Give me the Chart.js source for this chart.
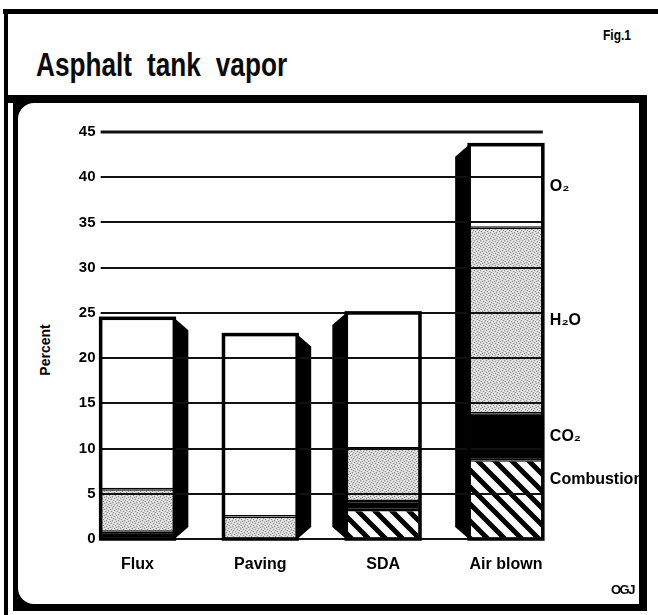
<!DOCTYPE html>
<html>
<head>
<meta charset="utf-8">
<script src="https://cdn.jsdelivr.net/npm/chart.js@4/dist/chart.umd.min.js"></script>
<style>
  html, body { margin:0; padding:0; background:#fff; }
  #page { position:relative; width:658px; height:615px; overflow:hidden; background:#fff; }
  .blk { position:absolute; background:#000; }
  .txt { position:absolute; color:#000; white-space:nowrap; }
  #title { left:36px; top:45px; font-family:"Liberation Sans",Arial,sans-serif; font-size:34px; font-weight:bold; word-spacing:10px; transform:scaleX(0.77); transform-origin:0 0; color:#0a0a0a; }
  #fig { left:603px; top:26px; font-family:"Liberation Sans",Arial,sans-serif; font-size:15px; font-weight:bold; transform:scaleX(0.8); transform-origin:0 0; }
  #ogj { left:611px; top:582px; font-family:"Liberation Sans",Arial,sans-serif; font-size:13px; font-weight:bold; letter-spacing:-1.5px; }
  #percent { left:45px; top:350px; transform:translate(-50%,-50%) rotate(-90deg); font-family:"Liberation Sans",Arial,sans-serif; font-size:14px; font-weight:bold; }
  #chartWrap { position:absolute; left:0; top:0; width:658px; height:615px; }
</style>
</head>
<body>
<div id="page">
  <div class="blk" style="left:3px;top:9px;width:655px;height:5px"></div>
  <div class="blk" style="left:4px;top:9px;width:4px;height:606px"></div>
  <div class="blk" style="left:4px;top:95px;width:643px;height:8px"></div>
  <div class="blk" style="left:13px;top:95px;width:634px;height:516px"></div>
  <div style="position:absolute;left:18px;top:103px;width:621px;height:501px;background:#fff;border-radius:16px 0 0 16px"></div>
  <div class="txt" id="title">Asphalt tank vapor</div>
  <div class="txt" id="fig">Fig.1</div>
  <div class="txt" id="percent">Percent</div>
  <div id="chartWrap"><canvas id="c" width="658" height="615"></canvas></div>
  <div class="txt" id="ogj">OGJ</div>
  <div class="blk" style="left:639px;top:95px;width:8px;height:516px"></div>
</div>
<script>
// ---- data ----
const categories = ['Flux', 'Paving', 'SDA', 'Air blown'];
const combustion = [0, 0, 3.2, 8.7];
const co2        = [0.8, 0, 1.0, 5.2];
const h2o        = [4.7, 2.5, 5.8, 20.5];
const o2         = [18.9, 20.1, 15.0, 9.2];
const seriesNames = ['Combustion', 'CO₂', 'H₂O', 'O₂'];
const yTicks = [0, 5, 10, 15, 20, 25, 30, 35, 40, 45];

// ---- styles ----
const sideOf = ['right', 'right', 'left', 'left'];
const labelNudge = [-20, 0, 0, 0];

function makeHatch() {
  const s = 17;
  const c = document.createElement('canvas');
  c.width = s; c.height = s;
  const x = c.getContext('2d');
  x.fillStyle = '#fff'; x.fillRect(0, 0, s, s);
  x.strokeStyle = '#000'; x.lineWidth = 5;
  x.beginPath();
  for (const o of [-s, 0, s]) { x.moveTo(o - 2, -2); x.lineTo(o + s + 2, s + 2); }
  x.stroke();
  return x.createPattern(c, 'repeat');
}
function makeStipple() {
  const s = 6;
  const c = document.createElement('canvas');
  c.width = s; c.height = s;
  const x = c.getContext('2d');
  x.fillStyle = '#d6d6d6'; x.fillRect(0, 0, s, s);
  const dark = [[0,0],[3,1],[1,3],[4,4],[2,5],[5,2]];
  const light = [[2,0],[5,1],[0,4],[3,3],[1,2]];
  x.fillStyle = '#8c8c8c'; dark.forEach(p => x.fillRect(p[0], p[1], 1, 1));
  x.fillStyle = '#f4f4f4'; light.forEach(p => x.fillRect(p[0], p[1], 1, 1));
  return x.createPattern(c, 'repeat');
}
const hatch = makeHatch();
const stipple = makeStipple();

const seriesValues = [combustion, co2, h2o, o2];
const seriesFill = [hatch, '#000', stipple, '#fff'];

const datasets = seriesValues.map((vals, k) => ({
  label: seriesNames[k],
  data: vals,
  backgroundColor: seriesFill[k],
  borderColor: '#000',
  borderWidth: ctx => (ctx.raw ? 1.5 : 0),
  borderSkipped: false,
  categoryPercentage: 1,
  barPercentage: 0.6,
  clip: false
}));

const deco = {
  id: 'deco',
  afterDatasetsDraw(chart) {
    const ctx = chart.ctx;
    const ys = chart.scales.y;
    const metas = chart.data.datasets.map((d, k) => chart.getDatasetMeta(k));
    const n = categories.length;
    const boxes = [];
    for (let i = 0; i < n; i++) {
      const el = metas[0].data[i];
      const left = el.x - el.width / 2, right = el.x + el.width / 2;
      let total = 0;
      seriesValues.forEach(v => total += v[i]);
      const top = ys.getPixelForValue(total), bot = ys.getPixelForValue(0);
      boxes.push({ left, right, top, bot });
    }
    ctx.save();
    // 3D sides
    const sw = 14, bev = 12;
    boxes.forEach((b, i) => {
      ctx.fillStyle = '#000';
      ctx.beginPath();
      if (sideOf[i] === 'right') {
        ctx.moveTo(b.right - 1, b.top - 1);
        ctx.lineTo(b.right + sw, b.top + bev);
        ctx.lineTo(b.right + sw, b.bot - bev);
        ctx.lineTo(b.right - 1, b.bot + 1);
      } else {
        ctx.moveTo(b.left + 1, b.top - 1);
        ctx.lineTo(b.left - sw, b.top + bev);
        ctx.lineTo(b.left - sw, b.bot - bev);
        ctx.lineTo(b.left + 1, b.bot + 1);
      }
      ctx.closePath();
      ctx.fill();
    });
    // gridlines
    const x0 = boxes[0].left, x1 = boxes[n - 1].right;
    ctx.strokeStyle = '#111';
    yTicks.forEach(t => {
      const y = Math.round(ys.getPixelForValue(t));
      ctx.lineWidth = t === 45 ? 3 : 2;
      ctx.beginPath();
      ctx.moveTo(x0, y);
      ctx.lineTo(x1, y);
      ctx.stroke();
    });
    // outer frame of each bar
    ctx.lineWidth = 3.5;
    ctx.strokeStyle = '#000';
    boxes.forEach(b => {
      ctx.strokeRect(b.left, b.top, b.right - b.left, b.bot - b.top);
    });
    // series labels beside last bar
    const last = n - 1;
    ctx.fillStyle = '#000';
    ctx.font = 'bold 16px "Liberation Sans", Arial, sans-serif';
    ctx.textAlign = 'left';
    ctx.textBaseline = 'middle';
    let base = 0;
    seriesValues.forEach((v, k) => {
      const mid = base + v[last] / 2;
      base += v[last];
      const y = ys.getPixelForValue(mid) + labelNudge[k];
      ctx.fillText(seriesNames[k], boxes[last].right + 7, y);
    });
    ctx.restore();
  }
};

new Chart(document.getElementById('c'), {
  type: 'bar',
  data: { labels: categories, datasets },
  options: {
    responsive: false,
    animation: false,
    events: [],
    layout: { padding: { left: 77.5, right: 152, top: 132, bottom: 36 } },
    plugins: { legend: { display: false }, tooltip: { enabled: false }, title: { display: false } },
    scales: {
      x: {
        stacked: true,
        offset: false,
        grid: { display: false, drawTicks: false },
        border: { display: false },
        ticks: {
          color: '#000',
          padding: 16,
          font: { family: '"Liberation Sans", Arial, sans-serif', size: 16, weight: 'bold' },
          maxRotation: 0, autoSkip: false
        },
        afterFit: s => { s.height = 40; }
      },
      y: {
        stacked: true,
        min: 0, max: 45,
        grid: { display: false, drawTicks: false },
        border: { display: false },
        ticks: {
          stepSize: 5,
          color: '#000',
          padding: 42,
          font: { family: '"Liberation Sans", Arial, sans-serif', size: 15, weight: 'bold' }
        },
        afterFit: s => { s.width = 60; }
      }
    }
  },
  plugins: [deco]
});
</script>
</body>
</html>
